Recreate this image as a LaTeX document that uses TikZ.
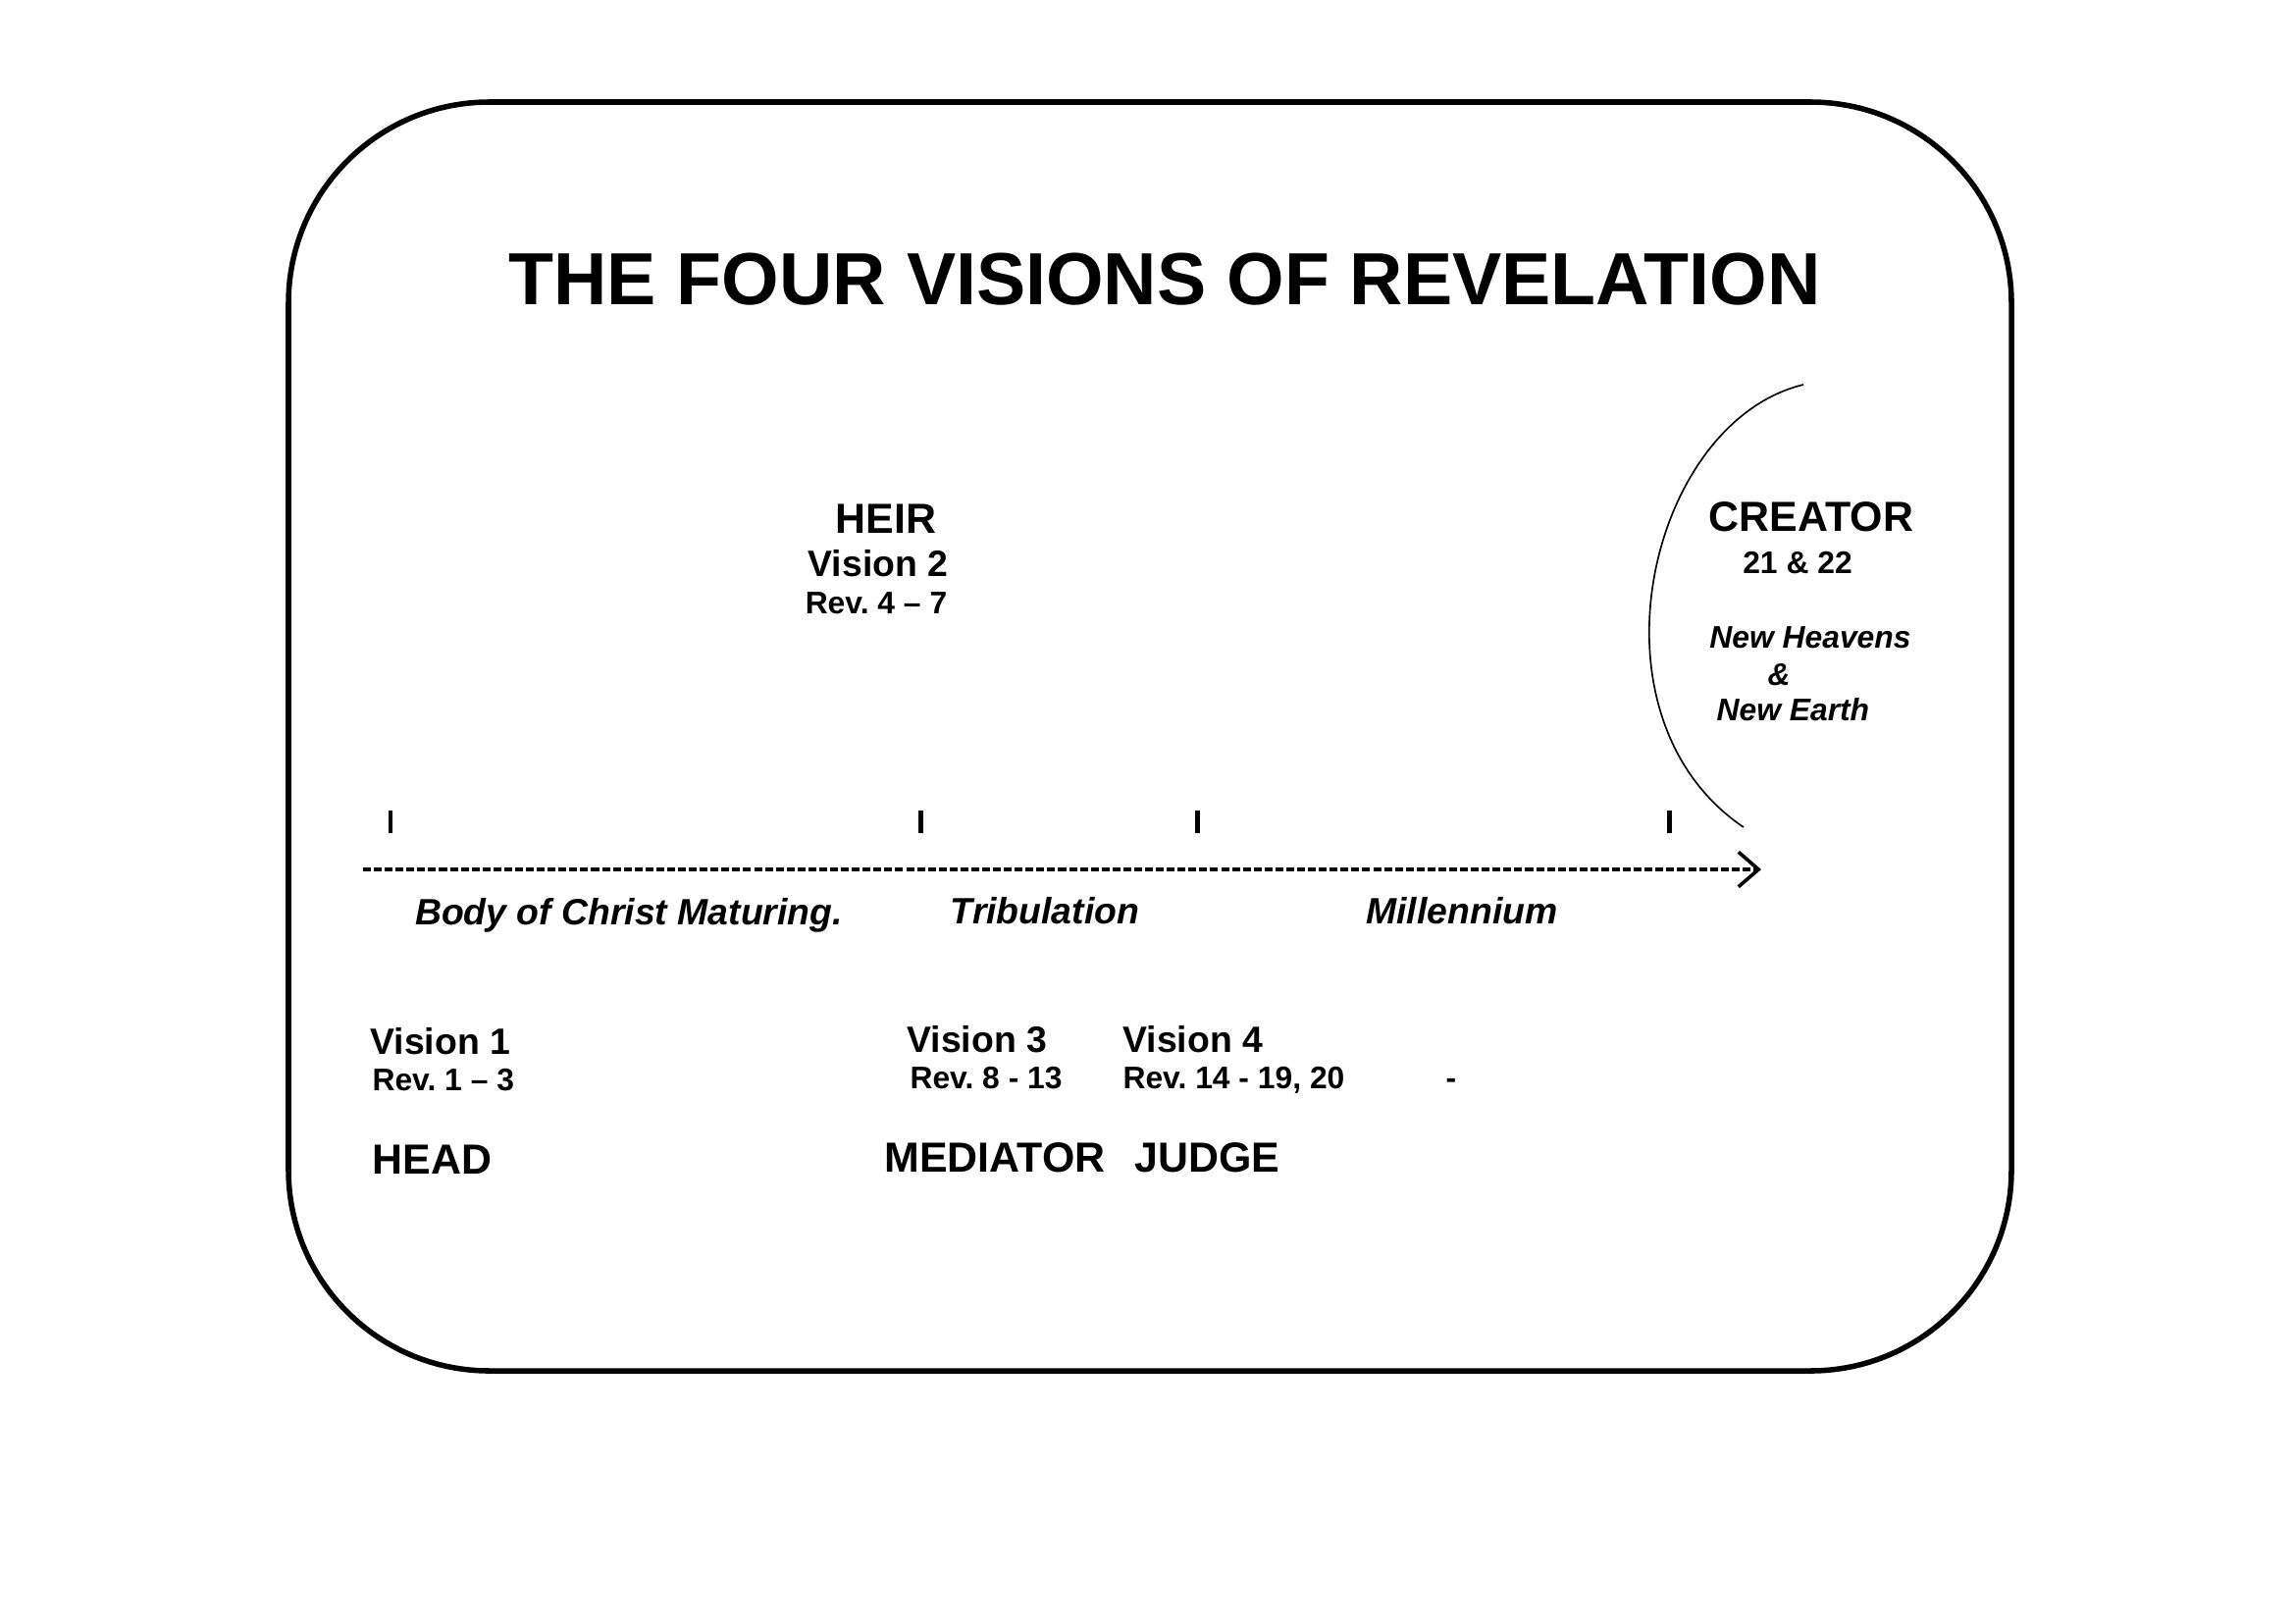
\documentclass[tikz,border=0pt]{standalone}
\usepackage{fontspec}
\setmainfont{Liberation Sans}
\usepackage{tikz}
\usetikzlibrary{positioning, arrows.meta}
\frenchspacing

\begin{document}
\begin{tikzpicture}[
  x=0.127mm, y=-0.127mm,
  node distance=2mm and 4mm,
  ttl/.style={font=\bfseries\fontsize{27.2}{32}\selectfont, inner sep=0pt},
  hdr/.style={font=\bfseries\fontsize{15.5}{18}\selectfont, inner sep=0pt},
  vis/.style={font=\bfseries\fontsize{13.5}{16}\selectfont, inner sep=0pt},
  rev/.style={font=\bfseries\fontsize{11.5}{14}\selectfont, inner sep=0pt},
  era/.style={font=\bfseries\itshape\fontsize{13.5}{16}\selectfont, inner sep=0pt},
  nhe/.style={font=\bfseries\itshape\fontsize{11.5}{14}\selectfont, inner sep=0pt},
  tick/.style={line width=1.8pt},
  frame/.style={line width=2pt, rounded corners=26mm},
  arr/.style={line width=1.3pt, dash pattern=on 2.9pt off 1.1pt,
              -{Straight Barb[length=2.6mm, width=4.5mm]}}
]
\useasboundingbox (0,0) rectangle (2338,1654);
\draw[frame] (294,104) rectangle (2050,1397);

\node[ttl, anchor=base] (title) at (1187,310) {THE FOUR VISIONS OF REVELATION};

% upper labels
\node[hdr, anchor=base] (heir) at (903,543) {HEIR};
\node[vis, anchor=base] (vtwo) at (895,587) {Vision 2};
\node[rev, anchor=base] (revtwo) at (893,625) {Rev. 4 -- 7};

\node[hdr, anchor=base] (creator) at (1846,541) {CREATOR};
\node[rev, anchor=base] (chap) at (1832,584) {21 \& 22};
\node[nhe, anchor=base] (newheav) at (1845,660) {New Heavens};
\node[nhe, anchor=base] (amp) at (1813,698) {\&};
\node[nhe, anchor=base west] (newearth) at (1749,734) {New Earth};

% the line of time
\coordinate (tstart) at (370,886);
\coordinate (tend) at (1795,886);
\draw[arr] (tstart) -- (tend);
\foreach \x/\n in {398/a, 938/b, 1220/c, 1701/d}
  \draw[tick] (\x,826) coordinate (t\n) -- (\x,849);

\coordinate (arctop) at (1838,392);
\coordinate (arcbot) at (1777,843);
\draw[line width=0.6pt] (arctop) .. controls (1680,430) and (1610,730) .. (arcbot);

\node[era, anchor=base] (bodyc) at (641,942) {Body of Christ Maturing.};
\node[era, anchor=base] (trib) at (1065,941) {Tribulation};
\node[era, anchor=base] (mill) at (1490,941) {Millennium};

% lower labels
\node[vis, anchor=base west] (vone) at (377,1074) {Vision 1};
\node[rev, anchor=base west] (revone) at (379,1111) {Rev. 1 -- 3};
\node[hdr, anchor=base west] (head) at (379,1196) {HEAD};

\node[vis, anchor=base west] (vthree) at (924,1072) {Vision 3};
\node[rev, anchor=base west] (revthree) at (927,1109) {Rev. 8 - 13};
\node[vis, anchor=base west] (vfour) at (1144,1072) {Vision 4};
\node[rev, anchor=base west] (revfour) at (1144,1109) {Rev. 14 - 19, 20};
\node[rev, anchor=base] (dash) at (1479,1109) {-};

\node[hdr, anchor=base west] (mediator) at (901,1194) {MEDIATOR};
\node[hdr, anchor=base west] (judge) at (1156,1194) {JUDGE};
\end{tikzpicture}
\end{document}
